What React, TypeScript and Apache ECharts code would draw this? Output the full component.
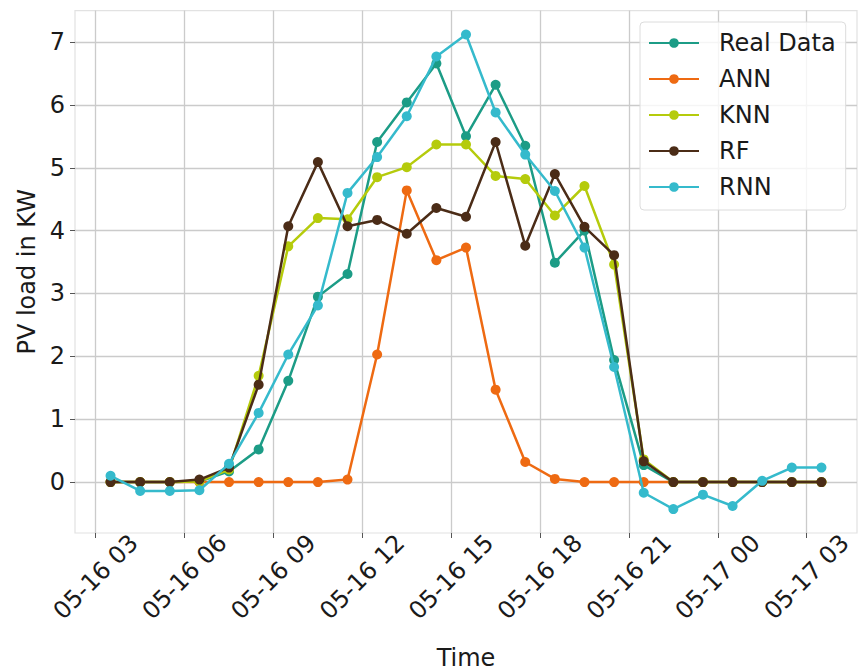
import React, { useEffect, useRef } from "react";
import * as echarts from "echarts";

const times = [
  "05-16 03:30", "05-16 04:30", "05-16 05:30", "05-16 06:30", "05-16 07:30",
  "05-16 08:30", "05-16 09:30", "05-16 10:30", "05-16 11:30", "05-16 12:30",
  "05-16 13:30", "05-16 14:30", "05-16 15:30", "05-16 16:30", "05-16 17:30",
  "05-16 18:30", "05-16 19:30", "05-16 20:30", "05-16 21:30", "05-16 22:30",
  "05-16 23:30", "05-17 00:30", "05-17 01:30", "05-17 02:30", "05-17 03:30",
];

const realData = [0, 0, 0, 0.01, 0.17, 0.52, 1.61, 2.95, 3.31, 5.41, 6.04, 6.66, 5.5, 6.32, 5.35, 3.49, 4.0, 1.94, 0.27, 0, 0, 0, 0, 0, 0];
const ann = [0, 0, 0, 0, 0, 0, 0, 0, 0.04, 2.03, 4.64, 3.53, 3.73, 1.47, 0.32, 0.05, 0, 0, 0, 0, 0, 0, 0, 0, 0];
const knn = [0, 0, 0, 0.01, 0.2, 1.69, 3.75, 4.2, 4.18, 4.85, 5.01, 5.37, 5.37, 4.87, 4.82, 4.24, 4.71, 3.46, 0.36, 0, 0, 0, 0, 0, 0];
const rf = [0, 0, 0, 0.04, 0.23, 1.55, 4.07, 5.09, 4.07, 4.17, 3.95, 4.36, 4.22, 5.41, 3.76, 4.9, 4.06, 3.61, 0.33, 0, 0, 0, 0, 0, 0];
const rnn = [0.1, -0.14, -0.14, -0.13, 0.29, 1.1, 2.03, 2.81, 4.6, 5.17, 5.82, 6.77, 7.12, 5.88, 5.21, 4.63, 3.73, 1.83, -0.17, -0.43, -0.2, -0.38, 0.02, 0.23, 0.23];

const seriesNames = ["Real Data", "ANN", "KNN", "RF", "RNN"];
const seriesColors = ["#1c9c86", "#ee6a12", "#b5cb0c", "#4b2c17", "#35bacc"];

const xTickLabels = ["05-16 03", "05-16 06", "05-16 09", "05-16 12", "05-16 15", "05-16 18", "05-16 21", "05-17 00", "05-17 03"];
const yTicks = [0, 1, 2, 3, 4, 5, 6, 7];

function toHours(s: string): number {
  const [md, hm] = s.split(" ");
  const day = parseInt(md.split("-")[1], 10);
  const [h, m] = hm.split(":").map((v) => parseInt(v, 10));
  return (day - 16) * 24 + h + (m || 0) / 60;
}

const xTickValues = xTickLabels.map((l) => toHours(l + ":00"));

export default function App() {
  const ref = useRef<HTMLDivElement>(null);
  useEffect(() => {
    if (!ref.current) return;
    const chart = echarts.init(ref.current, undefined, { renderer: "svg" });
    const xs = times.map(toHours);
    const allSeries = [realData, ann, knn, rf, rnn];
    const font = "DejaVu Sans";
    const option: any = {
      animation: false,
      backgroundColor: "#ffffff",
      textStyle: { fontFamily: font },
      grid: {
        left: 75,
        right: 7,
        top: 10.6,
        bottom: 138,
        containLabel: false,
        outerBoundsMode: "none",
        show: true,
        borderColor: "#e2e2e2",
        borderWidth: 1.2,
        backgroundColor: "transparent",
      },
      legend: {
        show: true,
        left: 640,
        top: 22,
        orient: "vertical",
        padding: [9, 10, 11, 8],
        itemWidth: 50,
        itemHeight: 12,
        itemGap: 12,
        backgroundColor: "rgba(255,255,255,0.8)",
        borderColor: "#dcdcdc",
        borderWidth: 1,
        borderRadius: 4,
        textStyle: { fontFamily: font, fontSize: 24, color: "#1a1a1a", lineHeight: 24, padding: [0, 0, 0, 15] },
        data: seriesNames,
      },
      xAxis: {
        type: "value",
        min: 2.3,
        max: 28.7,
        name: "Time",
        nameLocation: "middle",
        nameGap: 113,
        nameTextStyle: { fontFamily: font, fontSize: 24, color: "#1a1a1a" },
        axisLine: { show: false, onZero: false },
        axisTick: { show: true, length: 5, lineStyle: { color: "#555", width: 1 }, customValues: xTickValues },
        axisLabel: {
          customValues: xTickValues,
          rotate: 45,
          align: "center",
          verticalAlign: "middle",
          margin: 44,
          fontFamily: font,
          fontSize: 24,
          color: "#1a1a1a",
          formatter: (v: number) => {
            const i = xTickValues.findIndex((t) => Math.abs(t - v) < 1e-6);
            return i >= 0 ? xTickLabels[i] : "";
          },
        },
        splitLine: { show: true, lineStyle: { color: "#cbcbcb", width: 1.3 } },
      },
      yAxis: {
        type: "value",
        min: -0.81,
        max: 7.5,
        name: "PV load in KW",
        nameLocation: "middle",
        nameGap: 31,
        nameTextStyle: { fontFamily: font, fontSize: 24, color: "#1a1a1a" },
        axisLine: { show: false },
        axisTick: { show: true, length: 5, lineStyle: { color: "#555", width: 1 }, customValues: yTicks },
        axisLabel: { customValues: yTicks, margin: 10, fontFamily: font, fontSize: 24, color: "#1a1a1a" },
        splitLine: { show: true, lineStyle: { color: "#cbcbcb", width: 1.3 } },
      },
      series: allSeries.map((vals, i) => ({
        name: seriesNames[i],
        type: "line",
        data: vals.map((v, j) => [xs[j], v]),
        symbol: "circle",
        symbolSize: 10,
        showSymbol: true,
        color: seriesColors[i],
        lineStyle: { width: 2.5, color: seriesColors[i] },
        itemStyle: { color: seriesColors[i] },
        z: 2 + i,
      })),
    };
    chart.setOption(option);
    return () => chart.dispose();
  }, []);
  return <div ref={ref} style={{ width: 864, height: 671, position: "absolute", left: 0, top: 0 }} />;
}
